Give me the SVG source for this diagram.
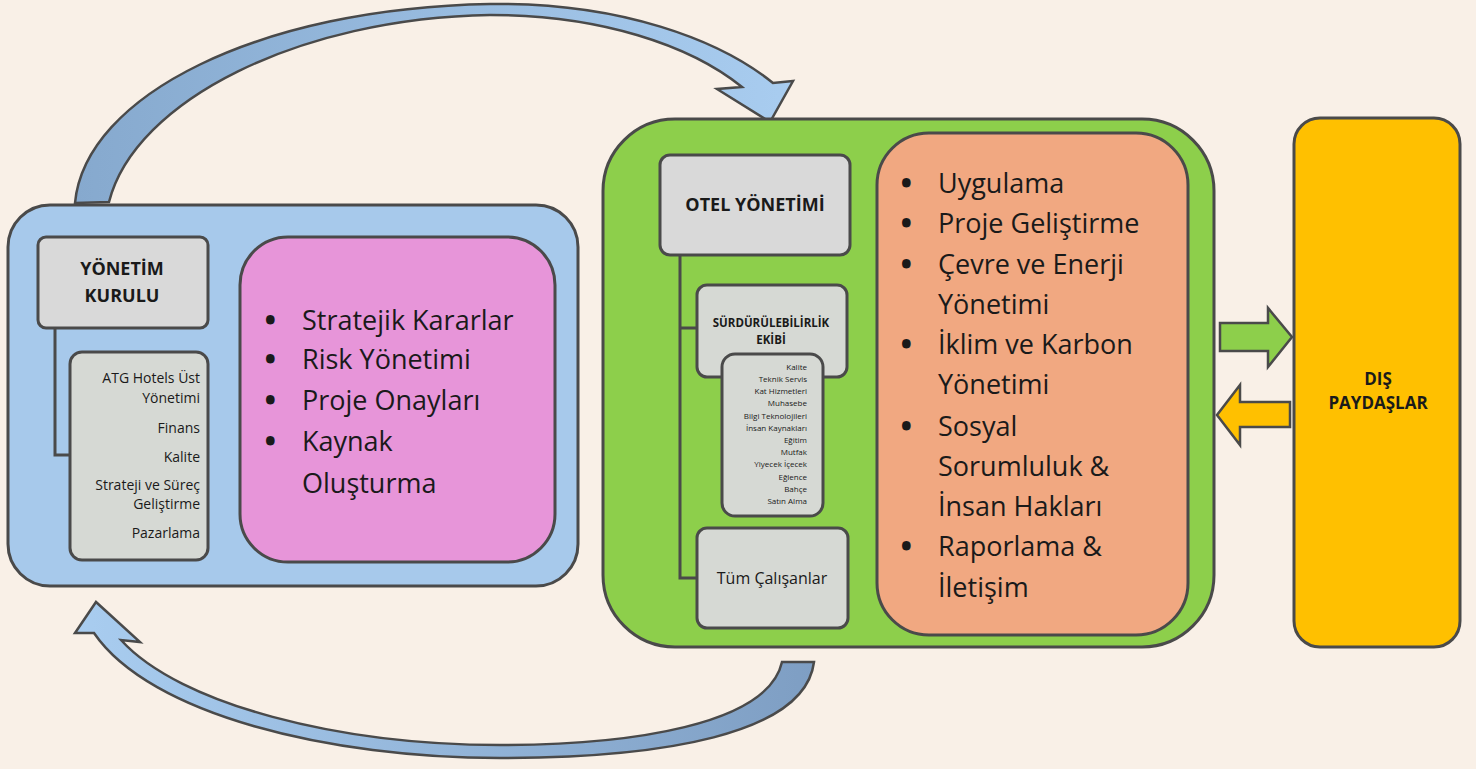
<svg xmlns="http://www.w3.org/2000/svg" width="1476" height="769" viewBox="0 0 1476 769">
<defs>
<linearGradient id="gTop" x1="75" y1="0" x2="800" y2="0" gradientUnits="userSpaceOnUse">
<stop offset="0" stop-color="#86A9CE"/><stop offset="1" stop-color="#A9CDF0"/>
</linearGradient>
<linearGradient id="gBot" x1="75" y1="0" x2="815" y2="0" gradientUnits="userSpaceOnUse">
<stop offset="0" stop-color="#A9CDF0"/><stop offset="1" stop-color="#7E9EC3"/>
</linearGradient>
<style>
.box{stroke:#4A4A4A;stroke-width:3}
.grey{fill:#D9D9D9}
.grey2{fill:#D6D9D4}
.line{fill:none;stroke:#4A4A4A;stroke-width:3}
.t{font-family:"Open Sans",Lato,"Liberation Sans",sans-serif;fill:#1A1A1A}
.b{font-weight:bold}
.big{font-size:27px}
.bul{font-weight:800}
.sm{font-size:14px;text-anchor:end}
.xs{font-size:8px;text-anchor:end}
.mid{text-anchor:middle}
.arr{stroke:#4A4A4A;stroke-width:2.5;stroke-linejoin:miter}
</style>
</defs>
<rect x="0" y="0" width="1476" height="769" fill="#F9F0E7"/>

<g id="connectors">
<path id="arc-top" class="arr" fill="url(#gTop)" d="M 75,203 C 85,95 260,8 490,4 C 620,2 720,40 773,83 L 793,81 L 770,122 L 717,89 L 742,87 C 690,45 600,15 490,15 C 300,18 135,100 109,202 Z"/>
<path id="arc-bottom" class="arr" fill="url(#gBot)" d="M 782,662 C 768,725 630,745 500,745 C 340,745 180,705 121,640 L 140,642 L 96,602 L 75,633 L 94,633 C 150,715 330,758 500,758 C 660,758 805,735 814,662 Z"/>
<polygon id="arrow-out" class="arr" fill="#8DCF4B" points="1220,323 1268,323 1268,308 1292,337 1268,367 1268,351 1220,351"/>
<polygon id="arrow-in" class="arr" fill="#FFC000" points="1290,402 1240,402 1240,385 1217,415 1240,445 1240,427 1290,427"/>
</g>

<g id="board">
<rect class="box" x="8" y="205" width="570" height="381" rx="42" fill="#A7C9EB"/>
<path class="line" d="M 55,328 V 455 H 72"/>
<g id="board-title">
<rect class="box grey" x="38" y="237" width="170" height="91" rx="8"/>
<text class="t b mid" x="122" y="275" font-size="18">YÖNETİM</text>
<text class="t b mid" x="122" y="302" font-size="18">KURULU</text>
</g>
<g id="board-members">
<rect class="box grey2" x="70" y="352" width="138" height="208" rx="12"/>
<text class="t sm" x="200" y="383">ATG Hotels Üst</text>
<text class="t sm" x="200" y="403">Yönetimi</text>
<text class="t sm" x="200" y="433">Finans</text>
<text class="t sm" x="200" y="462">Kalite</text>
<text class="t sm" x="200" y="490">Strateji ve Süreç</text>
<text class="t sm" x="200" y="509">Geliştirme</text>
<text class="t sm" x="200" y="538">Pazarlama</text>
</g>
<g id="board-tasks">
<rect class="box" x="240" y="237" width="315" height="325" rx="48" fill="#E795D9"/>
<text class="t big" y="330"><tspan class="bul" x="265">•</tspan><tspan x="302">Stratejik Kararlar</tspan></text>
<text class="t big" y="369"><tspan class="bul" x="265">•</tspan><tspan x="302">Risk Yönetimi</tspan></text>
<text class="t big" y="410"><tspan class="bul" x="265">•</tspan><tspan x="302">Proje Onayları</tspan></text>
<text class="t big" y="451"><tspan class="bul" x="265">•</tspan><tspan x="302">Kaynak</tspan></text>
<text class="t big" x="302" y="493">Oluşturma</text>
</g>
</g>

<g id="hotel">
<rect class="box" x="603" y="119" width="611" height="528" rx="72" fill="#8DCF4B"/>
<path class="line" d="M 680,255 V 578 H 697 M 680,328 H 697"/>
<g id="hotel-management">
<rect class="box grey" x="660" y="155" width="190" height="100" rx="10"/>
<text class="t b mid" x="755" y="211" font-size="18">OTEL YÖNETİMİ</text>
</g>
<g id="sustainability-team">
<rect class="box grey2" x="697" y="285" width="150" height="92" rx="10"/>
<text class="t b mid" x="771" y="327" font-size="11.5">SÜRDÜRÜLEBİLİRLİK</text>
<text class="t b mid" x="771" y="344" font-size="11.5">EKİBİ</text>
</g>
<g id="team-members">
<rect class="box grey2" x="722" y="354" width="101" height="162" rx="13"/>
<text class="t xs" x="807" y="370">Kalite</text>
<text class="t xs" x="807" y="382">Teknik Servis</text>
<text class="t xs" x="807" y="394">Kat Hizmetleri</text>
<text class="t xs" x="807" y="406">Muhasebe</text>
<text class="t xs" x="807" y="419">Bilgi Teknolojileri</text>
<text class="t xs" x="807" y="431">İnsan Kaynakları</text>
<text class="t xs" x="807" y="443">Eğitim</text>
<text class="t xs" x="807" y="455">Mutfak</text>
<text class="t xs" x="807" y="467">Yiyecek İçecek</text>
<text class="t xs" x="807" y="480">Eğlence</text>
<text class="t xs" x="807" y="492">Bahçe</text>
<text class="t xs" x="807" y="504">Satın Alma</text>
</g>
<g id="all-employees">
<rect class="box grey2" x="697" y="528" width="151" height="100" rx="10"/>
<text class="t mid" x="772" y="584" font-size="16">Tüm Çalışanlar</text>
</g>
<g id="hotel-tasks">
<rect class="box" x="877" y="133" width="311" height="502" rx="52" fill="#F1A881"/>
<text class="t big" y="193"><tspan class="bul" x="901">•</tspan><tspan x="938">Uygulama</tspan></text>
<text class="t big" y="233"><tspan class="bul" x="901">•</tspan><tspan x="938">Proje Geliştirme</tspan></text>
<text class="t big" y="274"><tspan class="bul" x="901">•</tspan><tspan x="938">Çevre ve Enerji</tspan></text>
<text class="t big" x="938" y="314">Yönetimi</text>
<text class="t big" y="354"><tspan class="bul" x="901">•</tspan><tspan x="938">İklim ve Karbon</tspan></text>
<text class="t big" x="938" y="394">Yönetimi</text>
<text class="t big" y="436"><tspan class="bul" x="901">•</tspan><tspan x="938">Sosyal</tspan></text>
<text class="t big" x="938" y="476">Sorumluluk &amp;</text>
<text class="t big" x="938" y="516">İnsan Hakları</text>
<text class="t big" y="556"><tspan class="bul" x="901">•</tspan><tspan x="938">Raporlama &amp;</tspan></text>
<text class="t big" x="938" y="597">İletişim</text>
</g>
</g>

<g id="stakeholders">
<rect class="box" x="1294" y="118" width="166" height="529" rx="26" fill="#FFC000"/>
<text class="t b mid" x="1378" y="385" font-size="17">DIŞ</text>
<text class="t b mid" x="1378" y="409" font-size="17">PAYDAŞLAR</text>
</g>
</svg>
